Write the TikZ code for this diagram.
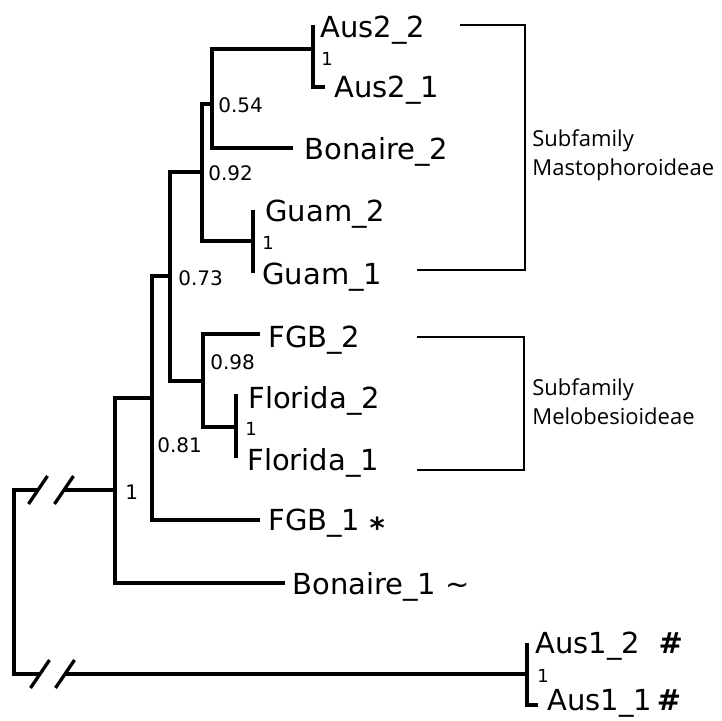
\documentclass[tikz,border=0pt]{standalone}
\usepackage{fontspec}
\setmainfont{DejaVu Sans}
\newfontfamily\groupfont{Open Sans}
\usepackage{tikz}
\usetikzlibrary{calc}
\newcommand{\cutmark}[1]{
  \draw[branch] ($(#1)+(-9.5,14)$) -- ($(#1)+(9.5,-14)$);
}

\begin{document}
\begin{tikzpicture}[x=0.5pt,y=-0.5pt,
    branch/.style={line width=1.65pt},
    bracket/.style={line width=0.65pt},
    taxon/.style={anchor=base west,inner sep=0pt,font=\fontsize{14.5}{17}\selectfont},
    support/.style={anchor=west,inner sep=0pt,font=\fontsize{10}{12}\selectfont},
    pairsup/.style={anchor=west,inner sep=0pt,font=\fontsize{9}{11}\selectfont},
    group/.style={anchor=west,inner sep=0pt,align=left,font=\groupfont\fontsize{11}{14.5}\selectfont}]
  \useasboundingbox (0,0) rectangle (721,721);
  % inner nodes
  \coordinate (root) at (14,582);
  \coordinate (n100) at (115,490);
  \coordinate (n081) at (152,398);
  \coordinate (n073) at (170,276);
  \coordinate (n092) at (202,172);
  \coordinate (n054) at (212,104);
  \coordinate (n098) at (203,381);
  \coordinate (naus2) at (313,49);
  \coordinate (nguam) at (253,241);
  \coordinate (nflor) at (236,427);
  \coordinate (naus1) at (527,674);
  % tips
  \coordinate (taus22) at (313,25);
  \coordinate (taus21) at (325,87);
  \coordinate (tbon2) at (293,148);
  \coordinate (tguam2) at (253,210);
  \coordinate (tguam1) at (253,273);
  \coordinate (tfgb2) at (260,334);
  \coordinate (tflor2) at (238,396);
  \coordinate (tflor1) at (236,458);
  \coordinate (tfgb1) at (260,520);
  \coordinate (tbon1) at (285,583);
  \coordinate (taus12) at (527,643);
  \coordinate (taus11) at (538,705);
  % cut branches
  \coordinate (cut1a) at (38,490);
  \coordinate (cut1b) at (64,490);
  \coordinate (cut2a) at (40,674);
  \coordinate (cut2b) at (65,674);

  \draw[branch] (root) |- (cut1a);
  \draw[branch] (cut1b) -- (n100);
  \draw[branch] (root) |- (cut2a);
  \draw[branch] (cut2b) -- (naus1);
  \foreach \c in {cut1a,cut1b,cut2a,cut2b} {
    \cutmark{\c}
  }
  \draw[branch] (n100) |- (n081);
  \draw[branch] (n100) |- (tbon1);
  \draw[branch] (n081) |- (n073);
  \draw[branch] (n081) |- (tfgb1);
  \draw[branch] (n073) |- (n092);
  \draw[branch] (n073) |- (n098);
  \draw[branch] (n092) |- (n054);
  \draw[branch] (n092) |- (nguam);
  \draw[branch] (n054) |- (naus2);
  \draw[branch] (n054) |- (tbon2);
  \draw[branch] (naus2) |- (taus22);
  \draw[branch] (naus2) |- (taus21);
  \draw[branch] (nguam) |- (tguam2);
  \draw[branch] (nguam) |- (tguam1);
  \draw[branch] (n098) |- (tfgb2);
  \draw[branch] (n098) |- (nflor);
  \draw[branch] (nflor) |- (tflor2);
  \draw[branch] (nflor) |- (tflor1);
  \draw[branch] (naus1) |- (taus12);
  \draw[branch] (naus1) |- (taus11);

  % names
  \node[taxon] (aus22) at (320,38) {Aus2\_2};
  \node[taxon] (aus21) at (334,98) {Aus2\_1};
  \node[taxon] (bon2) at (304,160) {Bonaire\_2};
  \node[taxon] (guam2) at (265,222) {Guam\_2};
  \node[taxon] (guam1) at (262,285) {Guam\_1};
  \node[taxon] (fgb2) at (268,347) {FGB\_2};
  \node[taxon] (flor2) at (248,408) {Florida\_2};
  \node[taxon] (flor1) at (247,470) {Florida\_1};
  \node[taxon] (fgb1) at (268,530) {FGB\_1 \raisebox{-0.3em}{\textbf{*}}};
  \node[taxon] (bon1) at (292,594) {Bonaire\_1 \textasciitilde};
  \node[taxon] (aus12) at (535,653) {Aus1\_2\ \ \textbf{\#}};
  \node[taxon] (aus11) at (547,710) {Aus1\_1\,\textbf{\#}};

  % support values
  \node[support] (s054) at (218,105) {0.54};
  \node[support] (s092) at (208,173) {0.92};
  \node[support] (s073) at (178,278) {0.73};
  \node[support] (s098) at (210,362) {0.98};
  \node[support] (s081) at (157,445) {0.81};
  \node[support] (s100) at (125,492) {1};
  \node[pairsup] (saus2) at (321,59) {1};
  \node[pairsup] (sguam) at (262,243) {1};
  \node[pairsup] (sflor) at (245,429) {1};
  \node[pairsup] (saus1) at (537,676) {1};

  % subfamilies
  \coordinate (mtopl) at (460,25);
  \coordinate (mtopr) at (525,25);
  \coordinate (mbotr) at (525,270);
  \coordinate (mbotl) at (417,270);
  \draw[bracket] (mtopl) -- (mtopr) -- (mbotr) -- (mbotl);
  \node[group] (mast) at (532,155) {Subfamily\\Mastophoroideae};
  \coordinate (btopl) at (417,337);
  \coordinate (btopr) at (524,337);
  \coordinate (bbotr) at (524,470);
  \coordinate (bbotl) at (417,470);
  \draw[bracket] (btopl) -- (btopr) -- (bbotr) -- (bbotl);
  \node[group] (melo) at (532,402) {Subfamily\\Melobesioideae};
\end{tikzpicture}
\end{document}
